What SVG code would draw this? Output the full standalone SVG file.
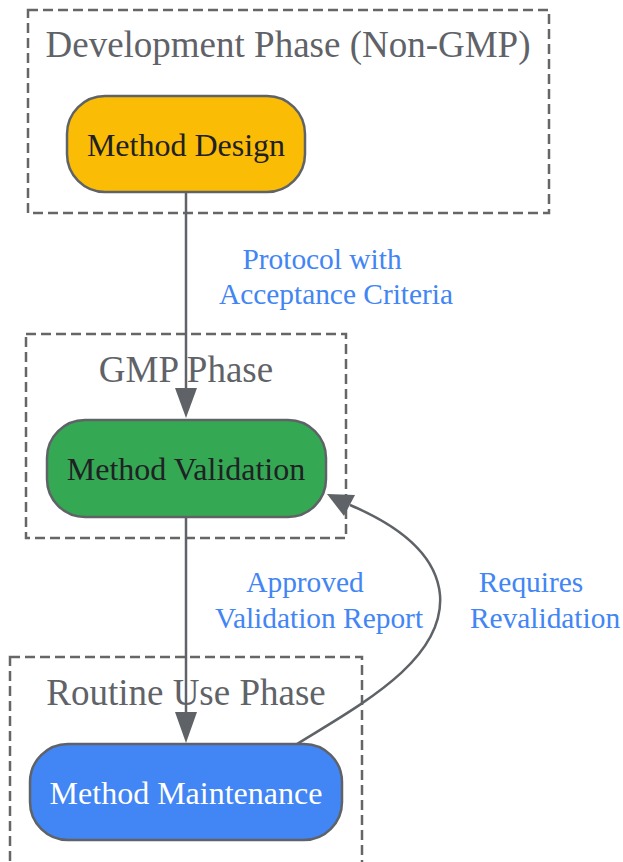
<svg xmlns="http://www.w3.org/2000/svg" width="623" height="862" viewBox="0 0 623 862">
<style>
.cluster{fill:none;stroke:#666;stroke-width:2.5;stroke-dasharray:10 5}
.ctitle{font-family:"Liberation Serif",serif;font-size:37px;fill:#5f6368;text-anchor:middle}
.node rect{stroke:#5f6368;stroke-width:2.5}
.ntext{font-family:"Liberation Serif",serif;font-size:32px;fill:#202124;text-anchor:middle}
.elabel{font-family:"Liberation Serif",serif;font-size:29.4px;fill:#4285F4;text-anchor:middle}
.edge{fill:none;stroke:#5f6368;stroke-width:2.5}
</style>
<g id="cluster-dev">
<rect class="cluster" x="28" y="10" width="521" height="203"/>
<text class="ctitle" x="288" y="57">Development Phase (Non-GMP)</text>
</g>
<g id="cluster-gmp">
<rect class="cluster" x="26" y="334" width="320" height="204"/>
<text class="ctitle" x="186" y="382">GMP Phase</text>
</g>
<g id="cluster-routine">
<rect class="cluster" x="10" y="657" width="352" height="215"/>
<text class="ctitle" x="186" y="705">Routine Use Phase</text>
</g>
<g id="edges">
<path class="edge" d="M186,192 L186,388"/>
<path d="M175,388 L197,388 L186,418 z" fill="#5f6368"/>
<path class="edge" d="M186,517 L186,712"/>
<path d="M175,712 L197,712 L186,743 z" fill="#5f6368"/>
<path class="edge" d="M297,744 C360,705 445,660 440,595 C436,550 390,522 350,505"/>
<path d="M327,494 L355,495 L344,516 z" fill="#5f6368"/>
<text class="elabel" x="322" y="269">Protocol with</text>
<text class="elabel" x="336" y="304">Acceptance Criteria</text>
<text class="elabel" x="305" y="592">Approved</text>
<text class="elabel" x="319" y="628">Validation Report</text>
<text class="elabel" x="531" y="592">Requires</text>
<text class="elabel" x="545" y="628">Revalidation</text>
</g>
<g id="node-design" class="node">
<rect x="67" y="96" width="238" height="96" rx="38" fill="#FBBC05"/>
<text class="ntext" x="186" y="156">Method Design</text>
</g>
<g id="node-validation" class="node">
<rect x="47" y="420" width="279" height="97" rx="38" fill="#34A853"/>
<text class="ntext" x="186" y="480">Method Validation</text>
</g>
<g id="node-maintenance" class="node">
<rect x="30" y="744" width="312" height="96" rx="38" fill="#4285F4"/>
<text class="ntext" x="186" y="804" style="fill:#fff">Method Maintenance</text>
</g>
</svg>
